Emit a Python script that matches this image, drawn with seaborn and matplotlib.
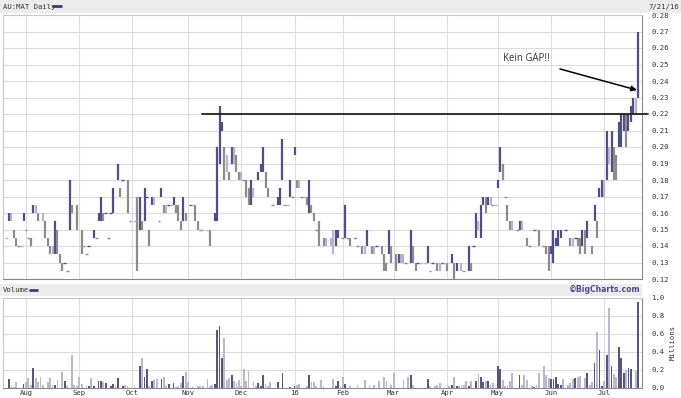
import matplotlib
matplotlib.use("Agg")
import numpy as np
import pandas as pd
import matplotlib.pyplot as plt
import seaborn as sns
from matplotlib.patches import Rectangle
from matplotlib.lines import Line2D

# ---------------- data (trading-day index since 22 Jul 2015) ----------------
price_day = [0, 1, 2, 3, 4, 5, 6, 7, 8, 9, 10, 11, 12, 13, 15, 16, 17, 18, 19, 20,
             21, 22, 23, 24, 25, 26, 27, 29, 31, 32, 33, 34, 36, 37, 38, 39, 40, 41, 42, 43,
             44, 46, 47, 48, 50,
             51, 53, 54, 55, 56, 57, 58, 59, 60, 61, 63, 64, 65, 66, 67, 68, 69, 70, 71, 72,
             73, 74, 76, 77, 78, 79, 80, 81, 83, 84, 86, 87, 88, 89, 90, 91, 92, 93, 94, 95,
             96, 97, 98, 99, 100,
             101, 102, 104, 105, 106, 107, 108, 110, 112, 113, 114, 115, 116, 117, 118, 119,
             120, 121, 122, 123, 124, 125, 126, 127, 128, 129, 131, 132, 134, 135, 136, 137,
             139, 140, 141, 142, 144, 145, 147, 148, 149, 151, 152,
             153, 155, 156, 157, 158, 159, 161, 162, 163, 164, 165, 167, 168, 169, 170, 171,
             173, 174, 175, 176, 178, 179, 180, 181, 182, 184, 185, 186, 188, 189, 191, 192,
             193, 194, 195, 196, 197, 198, 199, 200, 201, 202, 203, 204, 205,
             206, 207, 208, 209, 211, 212, 213, 215, 216, 218, 219, 220, 222, 223, 224, 225,
             226, 227, 228, 229, 231, 233, 234, 235, 236, 237, 238, 239, 240, 242, 243, 244,
             245, 246, 247, 248, 249, 250, 251, 252, 253, 254, 255, 256, 257, 258, 259, 260, 261]
price_low = [.145, .155, .155, .145, .14, .14, .14, .155, .15, .145, .14, .16, .16, .155, .155, .145, .14, .135, .135, .135,
             .135, .13, .125, .13, .125, .15, .16, .15, .135, .14, .135, .14, .145, .145, .155, .155, .155, .16, .145, .16,
             .16, .18, .17, .18, .16,
             .155, .155, .125, .15, .15, .155, .17, .14, .165, .165, .155, .17, .16, .16, .165, .165, .165, .16, .155, .15,
             .155, .155, .165, .165, .155, .15, .15, .15, .15, .14, .155, .155, .19, .21, .18, .185, .18, .19, .19, .185,
             .18, .18, .18, .17, .165,
             .165, .17, .18, .185, .185, .175, .17, .165, .165, .165, .18, .165, .165, .17, .17, .195,
             .175, .175, .17, .17, .165, .16, .16, .155, .15, .14, .14, .14, .14, .135, .14, .145,
             .145, .145, .145, .14, .145, .14, .135, .135, .14, .135, .135,
             .14, .135, .125, .125, .135, .13, .125, .13, .13, .13, .13, .13, .13, .125, .13, .13,
             .13, .13, .125, .13, .125, .125, .13, .13, .125, .13, .12, .125, .125, .125, .125, .125,
             .14, .145, .15, .145, .165, .16, .165, .165, .165, .165, .175, .185, .18,
             .17, .155, .15, .15, .15, .15, .15, .14, .14, .15, .15, .14, .14, .135, .125, .135,
             .13, .14, .14, .145, .15, .14, .14, .145, .14, .135, .14, .135, .145, .135, .155, .145,
             .17, .17, .17, .18, .19, .185, .18, .18, .20, .20, .21, .20, .21, .215, .22, .22, .23]
price_high = [.145, .16, .16, .15, .145, .14, .14, .16, .15, .145, .145, .165, .165, .16, .16, .155, .145, .14, .14, .155,
              .15, .135, .13, .13, .125, .18, .165, .165, .15, .14, .135, .14, .15, .145, .16, .17, .16, .16, .145, .16,
              .175, .19, .175, .18, .18,
              .155, .155, .17, .17, .155, .175, .17, .15, .17, .17, .155, .175, .165, .165, .165, .165, .17, .165, .165, .155,
              .17, .16, .165, .165, .165, .155, .15, .15, .15, .15, .16, .20, .225, .215, .20, .195, .185, .20, .20, .195,
              .185, .185, .18, .18, .175,
              .18, .175, .185, .19, .20, .185, .175, .165, .17, .175, .205, .165, .165, .18, .17, .20,
              .18, .18, .17, .17, .17, .18, .165, .16, .15, .155, .145, .145, .145, .15, .15, .15,
              .145, .165, .145, .145, .145, .14, .14, .14, .15, .14, .14,
              .14, .14, .135, .13, .15, .14, .135, .135, .135, .135, .13, .15, .14, .13, .13, .13,
              .13, .14, .125, .13, .13, .13, .13, .13, .13, .135, .13, .13, .13, .125, .14, .13,
              .14, .16, .155, .165, .17, .17, .17, .17, .165, .165, .18, .20, .19,
              .17, .165, .155, .155, .15, .155, .155, .145, .14, .15, .15, .15, .14, .14, .14, .14,
              .15, .145, .15, .15, .15, .145, .145, .145, .145, .145, .15, .15, .155, .14, .165, .155,
              .175, .18, .18, .21, .20, .21, .20, .195, .215, .22, .22, .22, .22, .225, .23, .23, .27]

vol_day = [1, 2, 3, 4, 7, 8, 9, 10, 11, 12, 13, 14, 15, 17, 18, 19, 20, 21, 23, 24, 25, 27, 28, 29, 30,
           31, 33, 34, 35, 36, 38, 39, 40, 41, 43, 44, 45, 46, 48, 49, 50, 55, 56, 57, 58, 59, 60, 61,
           62, 64, 65, 66, 67, 69, 70, 71, 72, 73, 74, 75, 77, 79, 80, 81, 83, 84, 85, 86, 87, 88, 89,
           90, 91, 92, 93, 94, 95, 96, 97, 98, 99, 100, 102, 103, 104, 105, 106, 107, 108, 109, 112,
           114, 117, 119, 120, 121, 124, 125, 126, 127, 128, 130, 131, 135, 136, 137, 138, 139, 140,
           142, 145, 148, 150, 152, 154, 156, 157, 159, 160, 164, 166, 167, 168, 174, 175, 177, 178,
           179, 183, 184, 185, 186, 187, 188, 189, 190, 191, 192, 194, 195, 196, 197, 198, 199, 200,
           201, 203, 204, 205, 206, 207, 208, 209, 212, 213, 214, 215, 217, 218, 219, 220, 222, 223,
           224, 225, 226, 227, 228, 229, 230, 232, 233, 234, 235, 236, 237, 239, 240, 241, 242, 243,
           244, 245, 246, 247, 248, 249, 250, 251, 252, 253, 254, 255, 256, 257, 258, 260, 261]
vol_mln = [.097, .02, .012, .063, .05, .065, .115, .03, .22, .11, .063, .12, .03, .063, .11, .034, .037, .085, .18, .08, .026, .366, .037, .02, .127,
           .04, .02, .02, .11, .026, .078, .078, .063, .056, .02, .05, .026, .11, .02, .03, .02, .25, .336, .127, .209, .02, .078, .093,
           .1, .1, .127, .02, .04, .056, .012, .026, .056, .13, .175, .063, .012, .02, .026, .02, .097, .026, .037, .04, .646, .69, .336,
           .552, .085, .115, .14, .078, .056, .093, .02, .209, .078, .19, .075, .026, .056, .02, .145, .04, .026, .063, .063,
           .168, .012, .02, .03, .04, .02, .142, .063, .063, .02, .093, .02, .097, .026, .075, .02, .123, .04,
           .022, .037, .09, .037, .037, .075, .12, .075, .037, .17, .09, .12, .15, .037, .10, .022, .022, .037,
           .06, .022, .037, .12, .022, .022, .037, .037, .082, .022, .075, .075, .157, .12, .064, .075, .075, .037,
           .06, .25, .21, .09, .022, .037, .082, .165, .15, .037, .146, .09, .022, .015, .037, .165, .25, .14,
           .112, .097, .105, .12, .045, .037, .1, .037, .06, .097, .112, .12, .135, .112, .17, .037, .067, .277,
           .618, .427, .022, .075, .363, .888, .247, .157, .127, .457, .337, .165, .195, .225, .213, .187, .96]

price_ticks = [0.12, 0.13, 0.14, 0.15, 0.16, 0.17, 0.18, 0.19, 0.20, 0.21, 0.22, 0.23, 0.24, 0.25, 0.26, 0.27, 0.28]
volume_ticks = [0.0, 0.2, 0.4, 0.6, 0.8, 1.0]
month_labels = ["Aug", "Sep", "Oct", "Nov", "Dec", "16", "Feb", "Mar", "Apr", "May", "Jun", "Jul"]
month_start_day = [8, 30, 52, 75, 97, 119, 139, 160, 182, 203, 225, 247]
resistance_level = 0.22
resistance_from_day = 80.7
note_text = "Kein GAP!!"

# ---------------- style ----------------
sns.set_style("white")
plt.rcParams['font.family'] = ['DejaVu Sans Mono']

W, H = 681, 398
fig = plt.figure(figsize=(W / 100, H / 100), dpi=100)
fig.patch.set_facecolor("white")

def fx(px):
    return px / W

def fy(py):
    return 1 - py / H

X0, X1 = -1.49, 262.6
GRID = "#dcdcdc"
LABEL = "#333333"
pal = {"up": "#4f4f86", "down": "#8c8c8c", "flat": "#b4b4d2"}

# header bands
fig.add_artist(Rectangle((0, fy(13)), 1, 13 / H, transform=fig.transFigure,
                         facecolor="#ececec", edgecolor="none"))
fig.add_artist(Rectangle((0, fy(296)), fx(642), 12 / H, transform=fig.transFigure,
                         facecolor="#ececec", edgecolor="none"))
fig.text(fx(3), fy(6.5), "AU:MAT Daily", fontsize=5.2, color=LABEL, va="center", ha="left")
fig.add_artist(Line2D([fx(53), fx(61)], [fy(6), fy(6)], transform=fig.transFigure,
                      color="#3c3c7c", lw=2))
fig.text(fx(679), fy(6.5), "7/21/16", fontsize=5.2, color=LABEL, va="center", ha="right")
fig.text(fx(3), fy(290), "Volume", fontsize=5.2, color=LABEL, va="center", ha="left")
fig.add_artist(Line2D([fx(30), fx(37)], [fy(290), fy(290)], transform=fig.transFigure,
                      color="#3c3c7c", lw=2))
fig.text(fx(641), fy(290), "\u00a9BigCharts.com", fontsize=5.6, color="#4b4b8c",
         va="center", ha="right", fontweight="bold", family=["DejaVu Sans"])

# ---------------- price panel ----------------
axp = fig.add_axes([fx(3), fy(279), fx(639), 264 / H])
df = pd.DataFrame({"day": price_day, "low": price_low, "high": price_high})
mid = (df["low"] + df["high"]) / 2
chg = mid.diff().fillna(0)
df["tone"] = np.where(chg > 1e-9, "up", np.where(chg < -1e-9, "down", "flat"))
df["color"] = df["tone"].map(pal)

bars = df[df["high"] - df["low"] > 1e-9]
flats = df[df["high"] - df["low"] <= 1e-9]
axp.vlines(bars["day"], bars["low"], bars["high"], colors=bars["color"], lw=1.6, zorder=3)
axp.hlines(flats["low"], flats["day"] - 0.6, flats["day"] + 0.6, colors=flats["color"], lw=1.0, zorder=3)

axp.set_xlim(X0, X1)
axp.set_ylim(0.12, 0.28)
axp.set_xticks(month_start_day)
axp.set_xticklabels([])
axp.set_yticks(price_ticks)
axp.set_yticklabels([f"{v:.2f}" for v in price_ticks])
axp.yaxis.tick_right()
axp.tick_params(axis="both", length=0)
axp.tick_params(axis="y", pad=6.5, labelsize=5.2, labelcolor=LABEL)
axp.grid(True, color=GRID, lw=0.8)
axp.set_axisbelow(True)
for s in ["left", "top"]:
    axp.spines[s].set_color("#c8c8c8")
for s in ["right", "bottom"]:
    axp.spines[s].set_color("#8a8a8a")
for s in axp.spines.values():
    s.set_linewidth(0.8)

# resistance line and annotation
axp.plot([resistance_from_day, 265], [resistance_level, resistance_level],
         color="#222222", lw=1.3, clip_on=False, zorder=4)
axp.annotate("", xy=(260.5, 0.2345), xytext=(228.7, 0.2473),
             arrowprops=dict(arrowstyle="-|>", color="black", lw=1.1, mutation_scale=8,
                             shrinkA=0, shrinkB=0), zorder=5)
axp.text(205.1, 0.2539, note_text, fontsize=6.9, color="#333333", va="center", ha="left",
         family=["Open Sans", "DejaVu Sans"])

# ---------------- volume panel ----------------
axv = fig.add_axes([fx(3), fy(388), fx(639), 90 / H])
tone_by_day = dict(zip(df["day"], df["tone"]))
vdf = pd.DataFrame({"day": vol_day, "vol": vol_mln})
vdf["tone"] = [("up" if tone_by_day.get(d, "flat") == "up" else "flat") for d in vdf["day"]]
sns.barplot(data=vdf, x="day", y="vol", hue="tone", palette=pal, native_scale=True,
            width=0.75, dodge=False, errorbar=None, legend=False, linewidth=0, ax=axv,
            zorder=3)
axv.set_xlim(X0, X1)
axv.set_ylim(0, 1.0)
axv.set_xlabel("")
axv.set_ylabel("")
axv.set_xticks(month_start_day)
axv.set_xticklabels(month_labels)
axv.set_yticks(volume_ticks)
axv.set_yticklabels([f"{v:.1f}" for v in volume_ticks])
axv.yaxis.tick_right()
axv.tick_params(axis="both", length=0, labelsize=5.2, labelcolor=LABEL)
axv.tick_params(axis="y", pad=6.5)
axv.tick_params(axis="x", pad=1.5)
axv.grid(True, color=GRID, lw=0.8)
axv.set_axisbelow(True)
for s in ["left", "top"]:
    axv.spines[s].set_color("#c8c8c8")
for s in ["right", "bottom"]:
    axv.spines[s].set_color("#8a8a8a")
for s in axv.spines.values():
    s.set_linewidth(0.8)
fig.text(fx(673), fy(343), "Millions", fontsize=5.2, color=LABEL, rotation=90,
         va="center", ha="center")

fig.savefig("out.png", dpi=100, facecolor="white")
